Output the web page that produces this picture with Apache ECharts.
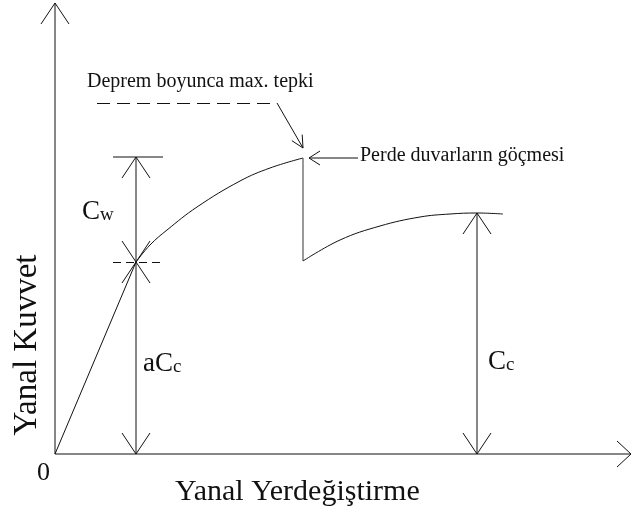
<!DOCTYPE html>
<html>
<head>
<meta charset="utf-8">
<script src="https://cdn.jsdelivr.net/npm/echarts@6/dist/echarts.min.js"></script>
<style>
  html, body { margin: 0; padding: 0; background: #fff; }
  #chart { width: 631px; height: 517px; }
</style>
</head>
<body>
<div id="chart"></div>
<script>
  // schematic units: 1 unit ~ 1 px, origin at the axes corner
  const elasticPart = [[0, 0], [81, 192]];
  const hardeningPart = [[81, 192], [95, 209], [112, 224], [142, 247], [185, 273], [215, 286], [248, 296]];
  const wallCollapse = [[248, 296], [248, 193]];
  const residualPart = [[248, 193], [285, 214], [325, 228], [365, 237], [395, 240], [422, 241], [448, 240]];

  const xAxisEnd = 576;
  const yAxisEnd = 451;
  const dimWallX = 81;      // Cw / aCc dimension line
  const dimColumnX = 422;   // Cc dimension line
  const peakY = 297;
  const yieldY = 192;
  const residualY = 241;

  const serif = "'Liberation Serif', 'Times New Roman', serif";

  // open V arrowhead: tip point, direction (deg, 0 = right, 90 = up), length, half width
  function arrowHead(tip, deg, len, half) {
    const a = deg * Math.PI / 180;
    const dx = Math.cos(a), dy = Math.sin(a);
    const bx = tip[0] - len * dx, by = tip[1] - len * dy;
    return [[bx - half * dy, by + half * dx], tip, [bx + half * dy, by - half * dx]];
  }

  const solidLines = [
    [[0, 0], [0, yAxisEnd]],
    [[0, 0], [xAxisEnd, 0]],
    [[dimWallX, peakY], [dimWallX, 0]],
    [[dimWallX - 23, peakY], [dimWallX + 27, peakY]],
    [[dimColumnX, residualY], [dimColumnX, 0]],
    [[222, 351], [248, 306]],
    [[254, 296], [303, 296]]
  ];
  const arrows = [
    arrowHead([0, yAxisEnd], 90, 21, 14),
    arrowHead([xAxisEnd, 0], 0, 14, 13),
    arrowHead([dimWallX, peakY], 90, 21, 14),
    arrowHead([dimWallX, yieldY], -90, 21, 14),
    arrowHead([dimWallX, yieldY], 90, 21, 14),
    arrowHead([dimWallX, 0], -90, 21, 14),
    arrowHead([dimColumnX, residualY], 90, 21, 14),
    arrowHead([dimColumnX, 0], -90, 21, 14),
    arrowHead([248, 306], Math.atan2(-45, 26) * 180 / Math.PI, 12, 6),
    arrowHead([254, 296], 180, 11, 7)
  ];

  const chart = echarts.init(document.getElementById('chart'));
  const lineStyle = { color: '#111', width: 1 };

  chart.setOption({
    animation: false,
    grid: { left: 55, right: 0, top: 3, bottom: 63 },
    xAxis: { type: 'value', min: 0, max: xAxisEnd, show: false },
    yAxis: { type: 'value', min: 0, max: yAxisEnd, show: false },
    series: [
      { type: 'line', data: elasticPart, symbol: 'none', lineStyle: lineStyle },
      { type: 'line', data: hardeningPart, symbol: 'none', smooth: 0.4, lineStyle: lineStyle },
      { type: 'line', data: wallCollapse, symbol: 'none', lineStyle: { color: '#555', width: 1.2 } },
      { type: 'line', data: residualPart, symbol: 'none', smooth: 0.4, lineStyle: lineStyle },
      {
        type: 'lines', coordinateSystem: 'cartesian2d', polyline: true, clip: false,
        lineStyle: { color: '#111', width: 1, opacity: 1 },
        data: solidLines.concat(arrows).map(c => ({ coords: c }))
      },
      {
        type: 'lines', coordinateSystem: 'cartesian2d', clip: false,
        lineStyle: { color: '#111', width: 1, opacity: 1, type: [13, 7] },
        data: [{ coords: [[42, 351], [222, 351]] }]
      },
      {
        type: 'lines', coordinateSystem: 'cartesian2d', clip: false,
        lineStyle: { color: '#111', width: 1, opacity: 1, type: [8, 5] },
        data: [{ coords: [[dimWallX - 23, yieldY], [dimWallX + 24, yieldY]] }]
      }
    ],
    graphic: [
      { type: 'text', left: 87, top: 72, style: { text: 'Deprem boyunca max. tepki', font: '20px ' + serif, fill: '#111' } },
      { type: 'text', left: 360, top: 146, style: { text: 'Perde duvarların göçmesi', font: '20px ' + serif, fill: '#111' } },
      { type: 'text', left: 37, top: 460, style: { text: '0', font: '26px ' + serif, fill: '#111' } },
      { type: 'text', left: 175, top: 477, style: { text: 'Yanal Yerdeğiştirme', font: '30px ' + serif, fill: '#111' } },
      {
        type: 'text', x: 27, y: 345, rotation: Math.PI / 2,
        style: { text: 'Yanal Kuvvet', font: '33px ' + serif, fill: '#111', align: 'center', verticalAlign: 'middle' }
      },
      {
        type: 'text', left: 82, top: 198,
        style: {
          text: '{b|C}{s|w}', fill: '#111',
          rich: { b: { font: '27px ' + serif, fill: '#111' }, s: { font: '19px ' + serif, fill: '#111', verticalAlign: 'bottom' } }
        }
      },
      {
        type: 'text', left: 143, top: 350,
        style: {
          text: '{b|aC}{s|c}', fill: '#111',
          rich: { b: { font: '27px ' + serif, fill: '#111' }, s: { font: '19px ' + serif, fill: '#111', verticalAlign: 'bottom' } }
        }
      },
      {
        type: 'text', left: 488, top: 348,
        style: {
          text: '{b|C}{s|c}', fill: '#111',
          rich: { b: { font: '27px ' + serif, fill: '#111' }, s: { font: '19px ' + serif, fill: '#111', verticalAlign: 'bottom' } }
        }
      }
    ]
  });
</script>
</body>
</html>
